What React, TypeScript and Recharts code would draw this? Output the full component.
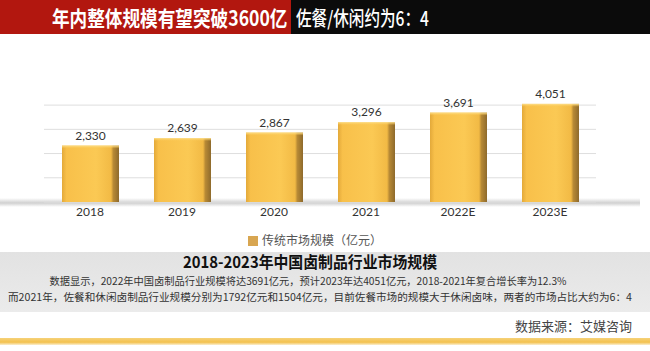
import { BarChart, Bar, XAxis, YAxis, CartesianGrid, LabelList, Legend } from 'recharts';

const categories = ['2018', '2019', '2020', '2021', '2022E', '2023E'];
const marketSize = [2330, 2639, 2867, 3296, 3691, 4051];
const yTicks = [0, 1000, 2000, 3000, 4000];
const seriesName = '传统市场规模（亿元）';

const headline = '年内整体规模有望突破3600亿';
const headlineRight = '佐餐/休闲约为6：4';
const captionTitle = '2018-2023年中国卤制品行业市场规模';
const captionLines = [
  '数据显示，2022年中国卤制品行业规模将达3691亿元，预计2023年达4051亿元，2018-2021年复合增长率为12.3%',
  '而2021年，佐餐和休闲卤制品行业规模分别为1792亿元和1504亿元，目前佐餐市场的规模大于休闲卤味，两者的市场占比大约为6：4',
];
const source = '数据来源：艾媒咨询';

const data = categories.map((year, i) => ({ year, value: marketSize[i] }));

const cjk = '"Noto Sans CJK SC", "Noto Sans", sans-serif';

function Bar3D(props: any) {
  const { x, y, width, height } = props;
  if (!height || height <= 0) return null;
  return (
    <g>
      <rect x={x} y={y} width={width} height={height} fill="url(#barFace)" />
      <rect x={x} y={y} width={width} height={3} fill="url(#barTop)" />
    </g>
  );
}

export default function App() {
  return (
    <div style={{ position: 'relative', width: 650, height: 351, background: '#fff', overflow: 'hidden', fontFamily: cjk }}>
      <style>{`body{margin:0}`}</style>

      {/* floor shadow under the bars */}
      <div
        style={{
          position: 'absolute', left: 0, top: 198, width: 640, height: 9,
          background: 'linear-gradient(to bottom, rgba(190,190,190,0) 0%, rgba(170,170,170,0.55) 55%, rgba(200,200,200,0) 100%)',
        }}
      />

      <div style={{ position: 'absolute', left: 0, top: 0 }}>
        <BarChart width={650} height={250} data={data} margin={{ top: 93, right: 54, bottom: 4, left: 44 }}>
          <defs>
            <linearGradient id="barFace" x1="0" y1="0" x2="1" y2="0">
              <stop offset="0%" stopColor="#E3A93A" />
              <stop offset="8%" stopColor="#F8C04A" />
              <stop offset="60%" stopColor="#FBC954" />
              <stop offset="86%" stopColor="#F2BA45" />
              <stop offset="90%" stopColor="#B88A35" />
              <stop offset="100%" stopColor="#8E6A2C" />
            </linearGradient>
            <linearGradient id="barTop" x1="0" y1="0" x2="0" y2="1">
              <stop offset="0%" stopColor="#FDE08F" />
              <stop offset="100%" stopColor="#FBC954" stopOpacity={0} />
            </linearGradient>
          </defs>
          <CartesianGrid
            vertical={false}
            stroke="#dedede"
            horizontalValues={yTicks}
          />
          <XAxis
            dataKey="year"
            axisLine={false}
            tickLine={false}
            tickSize={0}
            tickMargin={5}
            height={20}
            interval={0}
            tick={{ fill: '#333', fontSize: 12, fontFamily: 'Lato, sans-serif' }}
          />
          <YAxis hide domain={[0, 4500]} ticks={yTicks} />
          <Legend
            iconType="square"
            iconSize={10}
            wrapperStyle={{ top: 226 }}
            formatter={(value: string) => (
              <span style={{ color: '#555', fontSize: 12, fontFamily: cjk }}>{value}</span>
            )}
          />
          <Bar
            dataKey="value"
            name={seriesName}
            fill="#D8A651"
            barSize={57}
            shape={Bar3D}
            isAnimationActive={false}
          >
            <LabelList
              dataKey="value"
              position="top"
              offset={6}
              formatter={(v: number) => v.toLocaleString('en-US')}
              style={{ fill: '#333', fontSize: 12, fontFamily: 'Lato, sans-serif' }}
            />
          </Bar>
        </BarChart>
      </div>

      {/* headline banner */}
      <svg style={{ position: 'absolute', left: 0, top: 0 }} width={650} height={34}>
        <rect x={0} y={0} width={291} height={34} fill="#B2170F" />
        <rect x={291} y={0} width={359} height={34} fill="#0B0B0B" />
        <text transform="translate(52,26) scale(0.84,1)" fill="#fff" fontSize={21} fontWeight={700} fontFamily={cjk}>
          {headline}
        </text>
        <text transform="translate(296,26) scale(0.78,1)" fill="#fff" fontSize={20} fontWeight={500} fontFamily={cjk}>
          {headlineRight}
        </text>
      </svg>

      {/* caption block */}
      <svg style={{ position: 'absolute', left: 0, top: 245 }} width={650} height={106}>
        <defs>
          <linearGradient id="capBg" x1="0" y1="0" x2="0" y2="1">
            <stop offset="0%" stopColor="#E2E2E2" />
            <stop offset="100%" stopColor="#EBEBEB" />
          </linearGradient>
          <linearGradient id="stripe" x1="0" y1="0" x2="0" y2="1">
            <stop offset="0%" stopColor="#F6D27A" />
            <stop offset="60%" stopColor="#F3C14E" />
            <stop offset="100%" stopColor="#FBEFD0" />
          </linearGradient>
        </defs>
        <rect x={0} y={7} width={650} height={60} fill="url(#capBg)" />
        <text x={310} y={23} textAnchor="middle" fill="#111" fontSize={16} fontWeight={700} fontFamily={cjk} textLength={254} lengthAdjust="spacingAndGlyphs">
          {captionTitle}
        </text>
        <text x={308} y={40} textAnchor="middle" fill="#333" fontSize={10.5} fontFamily={cjk} textLength={517} lengthAdjust="spacingAndGlyphs">
          {captionLines[0]}
        </text>
        <text x={320} y={56} textAnchor="middle" fill="#333" fontSize={10.5} fontFamily={cjk} textLength={624} lengthAdjust="spacingAndGlyphs">
          {captionLines[1]}
        </text>
        <text x={632} y={86} textAnchor="end" fill="#444" fontSize={13} fontFamily={cjk}>
          {source}
        </text>
        <rect x={0} y={93} width={650} height={7} fill="url(#stripe)" />
      </svg>
    </div>
  );
}
